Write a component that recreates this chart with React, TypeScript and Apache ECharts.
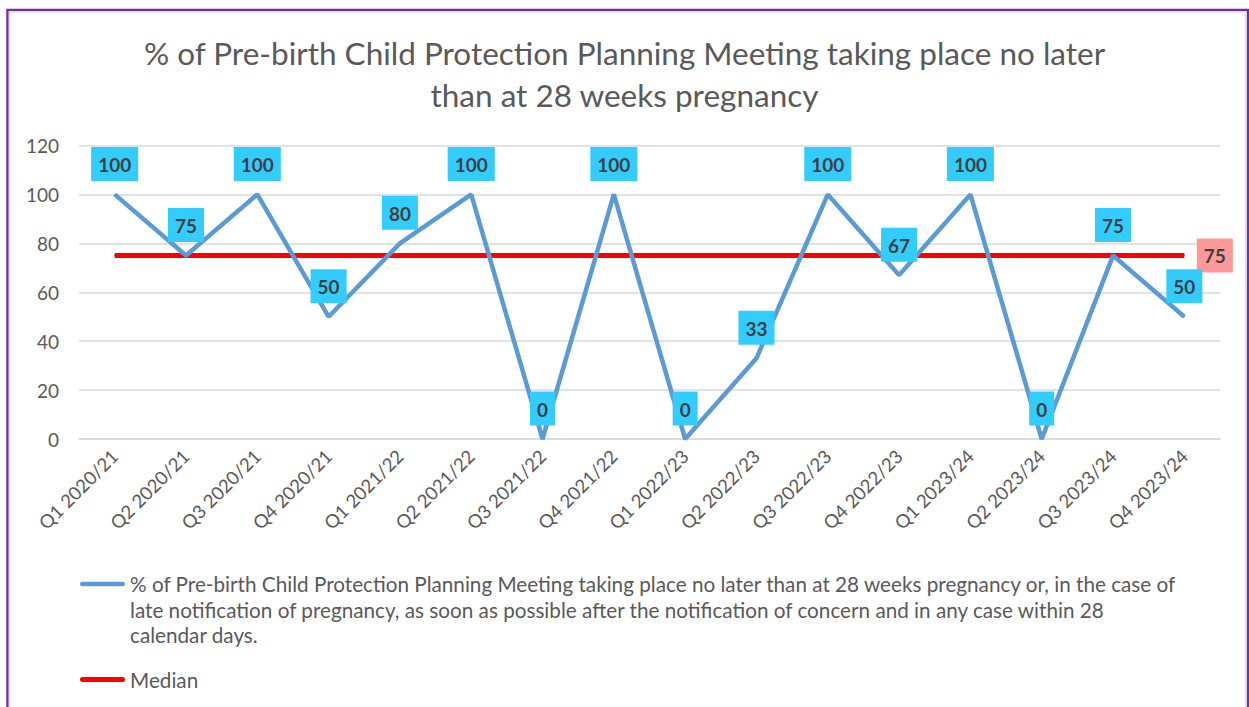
import React, { useEffect, useRef } from "react";
import * as echarts from "echarts";

const TITLE = "% of Pre-birth Child Protection Planning Meeting taking place no later\nthan at 28 weeks pregnancy";
const categories = [
  "Q1 2020/21", "Q2 2020/21", "Q3 2020/21", "Q4 2020/21",
  "Q1 2021/22", "Q2 2021/22", "Q3 2021/22", "Q4 2021/22",
  "Q1 2022/23", "Q2 2022/23", "Q3 2022/23", "Q4 2022/23",
  "Q1 2023/24", "Q2 2023/24", "Q3 2023/24", "Q4 2023/24",
];
const percentValues = [100, 75, 100, 50, 80, 100, 0, 100, 0, 33, 100, 67, 100, 0, 75, 50];
const medianValues = [75, 75, 75, 75, 75, 75, 75, 75, 75, 75, 75, 75, 75, 75, 75, 75];
const yTicks = { min: 0, max: 120, interval: 20 };
const seriesNameLines = [
  "% of Pre-birth Child Protection Planning Meeting taking place no later than at 28 weeks pregnancy or, in the case of",
  "late notification of pregnancy, as soon as possible after the notification of concern and in any case within 28",
  "calendar days.",
];
const SERIES_NAME = seriesNameLines.join(" ");
const MEDIAN_NAME = "Median";

const FONT = "Lato, 'Open Sans', sans-serif";

export default function App() {
  const ref = useRef<HTMLDivElement>(null);
  useEffect(() => {
    if (!ref.current) return;
    const chart = echarts.init(ref.current, null, { renderer: "svg" });
    const L = 25.5;
    const H1 = 3 * L;
    const c1 = L / 2;
    const icon1 =
      `path://M0,0h0.01v0.01h-0.01z M2.25,${c1 - 2.25}h40.5a2.25,2.25 0 0 1 0,4.5h-40.5a2.25,2.25 0 0 1 0,-4.5z M44.99,${H1 - 0.01}h0.01v0.01h-0.01z`;
    const icon2 =
      "path://M0,0h0.01v0.01h-0.01z M2.5,4.5h40a2.5,2.5 0 0 1 0,5h-40a2.5,2.5 0 0 1 0,-5z M44.99,13.99h0.01v0.01h-0.01z";
    chart.setOption({
      animation: false,
      backgroundColor: "#ffffff",
      textStyle: { fontFamily: FONT },
      title: {
        text: TITLE,
        left: "center",
        top: 27,
        textStyle: { fontSize: 31.5, fontWeight: "normal", color: "#595959", lineHeight: 42, fontFamily: FONT },
      },
      graphic: [
        { type: "rect", shape: { x: 7.5, y: 10, width: 1240.5, height: 720 }, style: { fill: "none", stroke: "#7030A0", lineWidth: 2.5 }, silent: true, z: 100 },
        { type: "rect", shape: { x: 9.5, y: 12, width: 1236, height: 720 }, style: { fill: "none", stroke: "#E3E3E3", lineWidth: 1.5 }, silent: true, z: 100 },
      ],
      legend: [
        {
          data: [SERIES_NAME],
          left: 80,
          top: 584 - c1,
          padding: 0,
          orient: "vertical",
          selectedMode: false,
          icon: icon1,
          itemWidth: 45,
          itemHeight: H1,
          itemGap: 5,
          formatter: () => seriesNameLines.join("\n"),
          textStyle: { fontSize: 20.7, color: "#595959", lineHeight: L, fontFamily: FONT },
        },
        {
          data: [MEDIAN_NAME],
          left: 80,
          top: 669,
          padding: 0,
          orient: "vertical",
          selectedMode: false,
          icon: icon2,
          itemWidth: 45,
          itemHeight: 14,
          textStyle: { fontSize: 20.7, color: "#595959", fontFamily: FONT },
        },
      ],
      grid: { left: 79, right: 29, top: 145.5, bottom: 268, containLabel: false, outerBoundsMode: "none" },
      xAxis: {
        type: "category",
        data: categories,
        boundaryGap: true,
        axisLine: { show: true, lineStyle: { color: "#D9D9D9", width: 1.5 } },
        axisTick: { show: false },
        axisLabel: { rotate: 45, fontSize: 18.5, color: "#595959", margin: 14, interval: 0, fontFamily: FONT },
      },
      yAxis: {
        type: "value",
        min: yTicks.min,
        max: yTicks.max,
        interval: yTicks.interval,
        axisLine: { show: false },
        axisTick: { show: false },
        splitLine: { lineStyle: { color: "#D9D9D9", width: 1.5 } },
        axisLabel: { fontSize: 19, color: "#595959", margin: 20, fontFamily: FONT },
      },
      series: [
        {
          name: SERIES_NAME,
          type: "line",
          data: percentValues,
          z: 3,
          symbol: "circle",
          symbolSize: 1,
          showSymbol: true,
          itemStyle: { color: "#5B9BD5" },
          lineStyle: { color: "#5B9BD5", width: 4.5 },
          label: {
            show: true,
            position: "top",
            distance: 13,
            backgroundColor: "#33CCFF",
            padding: [8, 7, 7, 7],
            fontSize: 19,
            fontWeight: "bold",
            color: "#404040",
            fontFamily: FONT,
          },
        },
        {
          name: MEDIAN_NAME,
          type: "line",
          z: 2,
          data: medianValues.map((v, i) =>
            i === medianValues.length - 1 ? { value: v, label: { show: true } } : v
          ),
          symbol: "circle",
          symbolSize: 1,
          showSymbol: true,
          itemStyle: { color: "#FF0000" },
          lineStyle: { color: "#FF0000", width: 5 },
          label: {
            show: false,
            position: "right",
            distance: 12,
            backgroundColor: "#FF9999",
            padding: [8, 7, 7, 7],
            fontSize: 19,
            fontWeight: "bold",
            color: "#404040",
            fontFamily: FONT,
          },
        },
      ],
    });
    return () => chart.dispose();
  }, []);
  return <div ref={ref} style={{ position: "fixed", left: 0, top: 0, width: 1249, height: 707 }} />;
}
